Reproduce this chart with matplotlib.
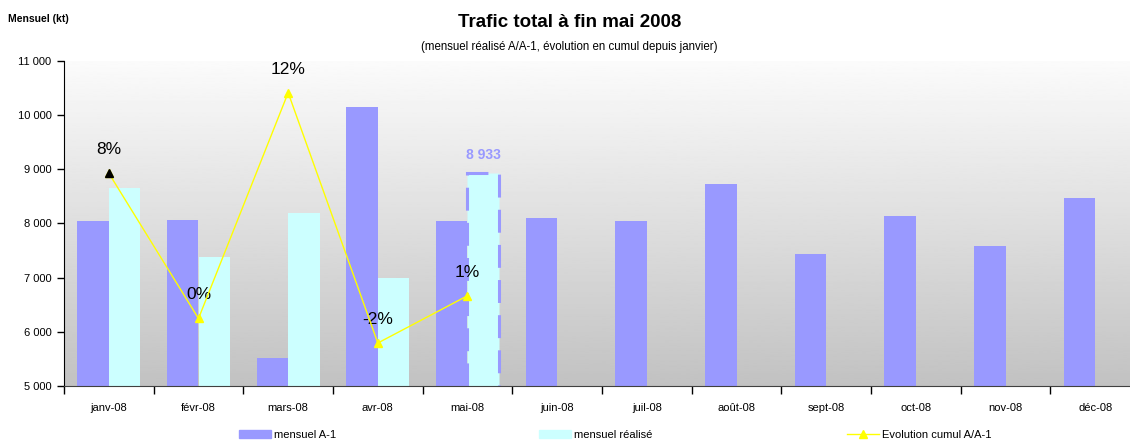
import numpy as np
import matplotlib
matplotlib.use("Agg")
import matplotlib.pyplot as plt
from matplotlib.ticker import FuncFormatter
from matplotlib.patches import Patch
from matplotlib.lines import Line2D

plt.rcParams['font.family'] = ['Liberation Sans Narrow', 'Liberation Sans', 'DejaVu Sans']

mois = ["janv-08", "févr-08", "mars-08", "avr-08", "mai-08", "juin-08",
        "juil-08", "août-08", "sept-08", "oct-08", "nov-08", "déc-08"]
mensuel_a1 = [8043, 8062, 5516, 10146, 8043, 8098, 8043, 8725, 7434, 8135, 7582, 8467]
mensuel_realise = [8652, 7379, 8191, 6992, 8933]
evolution = [8.5, 0.2, 13.1, -1.2, 1.5]
evolution_labels = ["8%", "0%", "12%", "-2%", "1%"]

violet = "#9999FF"
cyan = "#CCFFFF"
jaune = "#FFFF00"

fig = plt.figure(figsize=(11.3, 4.41), dpi=100)
ax = fig.add_axes([64 / 1130, 55 / 441, 1076 / 1130, 325.3 / 441])

# fond dégradé
grad = np.linspace(0.76, 0.985, 256).reshape(-1, 1)
ax.imshow(grad, cmap="gray", vmin=0, vmax=1, aspect="auto", origin="lower",
          extent=[0, 1, 0, 1], transform=ax.transAxes, zorder=0)

x = np.arange(len(mois))
w = 0.351
ax.bar(x - w / 2, mensuel_a1, width=w, color=violet, zorder=2)
xr = x[:len(mensuel_realise)]
bars = ax.bar(xr + w / 2, mensuel_realise, width=w, color=cyan, zorder=2)
# dernier mois : contour pointillé
last = bars[-1]
last.set_edgecolor(violet)
last.set_linewidth(2.2)
last.set_linestyle((0, (7.5, 4)))
ax.text(xr[-1] + w / 2, mensuel_realise[-1] + 200, f"{mensuel_realise[-1]:,}".replace(",", " "),
        ha="center", va="bottom", color=violet, fontsize=10, fontweight="bold", zorder=5)

ax.set_xlim(-0.5, len(mois) - 0.5)
ax.set_ylim(5000, 11000)
ax.set_yticks(np.arange(5000, 11001, 1000))
ax.yaxis.set_major_formatter(FuncFormatter(lambda v, p: f"{int(v):,}".replace(",", " ")))
ax.set_xticks(x)
ax.set_xticklabels(mois)
ax.set_xticks(np.arange(-0.5, len(mois), 1), minor=True)
ax.tick_params(axis="x", which="major", length=0, pad=12, labelsize=8)
ax.tick_params(axis="x", which="minor", length=6, width=1, direction="out")
ax.tick_params(axis="y", length=5, width=1, direction="out", labelsize=8, pad=4)
for s in ["top", "right"]:
    ax.spines[s].set_visible(False)
ax.spines["left"].set_color("black")
ax.spines["bottom"].set_color("#404040")

# évolution cumulée sur axe secondaire
ax2 = ax.twinx()
ax2.set_ylim(-3.657, 14.93)
ax2.axis("off")
ax2.plot(xr, evolution, color=jaune, lw=1, marker="^", markersize=6, zorder=4)
ax2.plot(xr[0], evolution[0], marker="^", color="black", markersize=6, ls="none", zorder=5)
for xi, v, lab in zip(xr, evolution, evolution_labels):
    ax2.annotate(lab, (xi, v), xytext=(0, 17), textcoords="offset points",
                 ha="center", va="center", fontsize=12.5)

fig.text(0.504, 0.948, "Trafic total à fin mai 2008", ha="center", va="center",
         fontsize=13.5, fontweight="bold")
fig.text(0.504, 0.893, "(mensuel réalisé A/A-1, évolution en cumul depuis janvier)",
         ha="center", va="center", fontsize=8.3)
fig.text(0.007, 0.958, "Mensuel (kt)", ha="left", va="center", fontsize=7.5, fontweight="bold")

# légende
entries = [
    (Patch(color=violet), "mensuel A-1", 240),
    (Patch(color=cyan), "mensuel réalisé", 540),
    (Line2D([], [], color=jaune, marker="^", markersize=6, lw=1), "Evolution cumul A/A-1", 848),
]
for h, lab, px in entries:
    fig.legend([h], [lab], loc="center left", bbox_to_anchor=(px / 1130 - 0.005, 6 / 441),
               frameon=False, fontsize=8, handlelength=2.9, handleheight=0.7,
               handletextpad=0.3, borderaxespad=0)

fig.savefig("out.png", dpi=100)
